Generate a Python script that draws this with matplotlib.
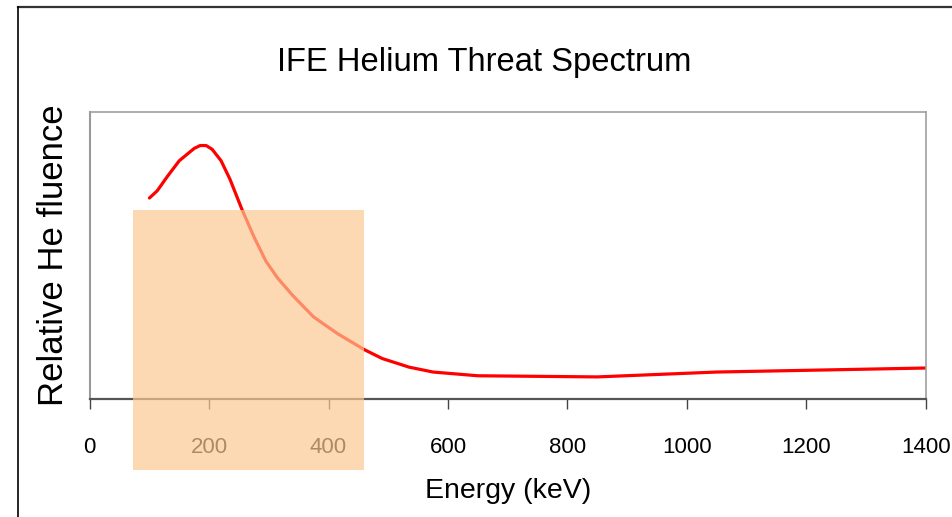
import matplotlib
matplotlib.use('Agg')
import matplotlib.pyplot as plt
from matplotlib.lines import Line2D

# helium fluence (relative units, axis spans 0-100)
energy_kev = [100, 113, 130, 150, 175, 185, 195, 205, 220, 235, 255, 275, 295, 315,
              340, 375, 415, 460, 490, 535, 575, 650, 700, 850, 1050, 1250, 1400]
he_fluence = [70, 72.5, 77.5, 83, 87.3, 88.3, 88.3, 87, 83, 76.5, 66, 56.5, 48, 42,
              36, 28.5, 22.7, 17.1, 14, 11, 9.3, 8, 7.9, 7.6, 9.3, 10.1, 10.7]
xticks = [0, 200, 400, 600, 800, 1000, 1200, 1400]

# highlighted energy window
band_lo, band_hi = 73, 460
band_top = 65.8

plt.rcParams['font.family'] = ['Liberation Sans', 'DejaVu Sans']

fig = plt.figure(figsize=(9.52, 5.17), dpi=100)
ax = fig.add_axes([89.7 / 952, 1 - 398.7 / 517, 836 / 952, 286.7 / 517])

ax.plot(energy_kev, he_fluence, color='#ff0000', lw=2.3, zorder=2,
        solid_capstyle='round', solid_joinstyle='round')
ax.axvspan(band_lo, band_hi, ymin=-0.247, ymax=band_top / 100,
           color='#fcc892', alpha=0.69, lw=0, zorder=3, clip_on=False)

ax.set_xlim(0, 1400)
ax.set_ylim(0, 100)
ax.set_xticks(xticks)
ax.set_xticklabels([str(t) for t in xticks], fontsize=16)
ax.set_yticks([])
ax.tick_params(axis='x', direction='out', length=7.2, width=1, color='#444444',
               pad=20.5)

for s in ['top', 'right']:
    ax.spines[s].set_color('#a0a0a0')
    ax.spines[s].set_linewidth(1.2)
ax.spines['left'].set_color('#999999')
ax.spines['left'].set_linewidth(1.5)
ax.spines['bottom'].set_color('#555555')
ax.spines['bottom'].set_linewidth(1.6)

ax.set_xlabel('Energy (keV)', fontsize=20.5, labelpad=14)
ax.set_ylabel('Relative He fluence', fontsize=25, labelpad=14)

fig.text(484 / 952, 1 - 63 / 517, 'IFE Helium Threat Spectrum',
         fontsize=23.6, ha='center', va='center')

# outer frame of the slide graphic
fig.add_artist(Line2D([18 / 952, 1], [1 - 6.5 / 517] * 2, color='#333333',
                      lw=1.6, transform=fig.transFigure))
fig.add_artist(Line2D([18 / 952] * 2, [0, 1 - 6.5 / 517], color='black',
                      lw=1.2, transform=fig.transFigure))

fig.savefig('out.png', dpi=100)
